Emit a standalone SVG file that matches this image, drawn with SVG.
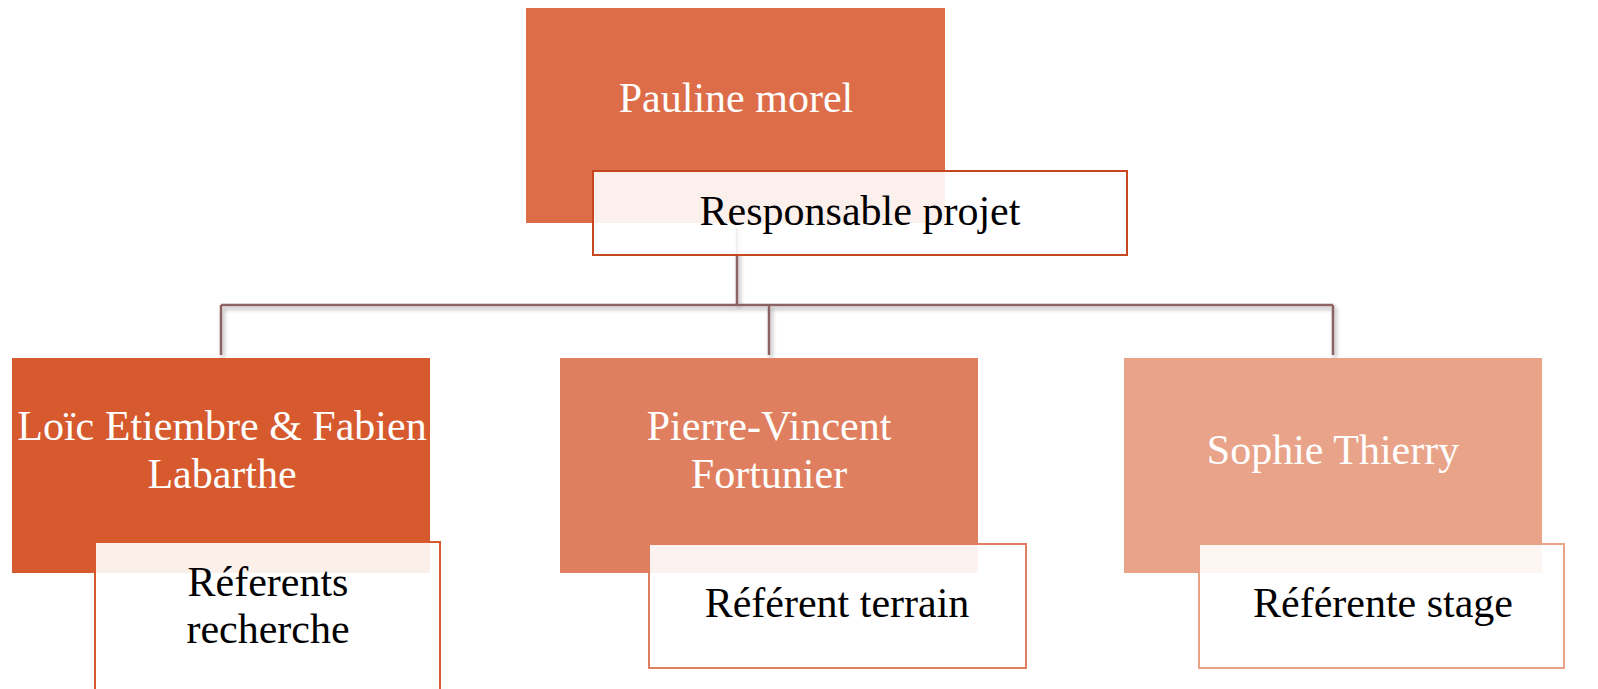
<svg xmlns="http://www.w3.org/2000/svg" width="1598" height="689" viewBox="0 0 1598 689">
<defs>
<filter id="sh" x="-10%" y="-50%" width="120%" height="200%">
<feGaussianBlur in="SourceAlpha" stdDeviation="2"/>
<feOffset dx="2" dy="3" result="b"/>
<feComponentTransfer><feFuncA type="linear" slope="0.35"/></feComponentTransfer>
<feMerge><feMergeNode/><feMergeNode in="SourceGraphic"/></feMerge>
</filter>
</defs>
<style>
.name{font-family:"Liberation Serif",serif;font-size:42px;fill:#FFFFFF;text-anchor:middle}
.role{font-family:"Liberation Serif",serif;font-size:42px;fill:#000000;text-anchor:middle}
.lbl{fill:#FFFFFF;fill-opacity:0.9;stroke-width:2}
.conn{fill:none;stroke:#8C6262;stroke-width:2.5}
</style>
<rect width="1598" height="689" fill="#FFFFFF"/>
<g id="connectors" filter="url(#sh)">
<path class="conn" d="M737 228 V305 M221 305 H1333 M221 305 V355 M769 305 V355 M1333 305 V355"/>
</g>
<g id="node-pauline">
<rect x="526" y="8" width="419" height="215" fill="#DD6C48"/>
<text class="name" x="736" y="112">Pauline morel</text>
<rect class="lbl" x="593" y="171" width="534" height="84" stroke="#C8461E"/>
<text class="role" x="860" y="225">Responsable projet</text>
</g>
<g id="node-loic">
<rect x="12" y="358" width="418" height="215" fill="#D65A2E"/>
<text class="name" x="222" y="440">Loïc Etiembre &amp; Fabien</text>
<text class="name" x="222" y="488">Labarthe</text>
<rect class="lbl" x="95" y="542" width="345" height="150" stroke="#D65A2E"/>
<text class="role" x="268" y="596">Réferents</text>
<text class="role" x="268" y="643">recherche</text>
</g>
<g id="node-pierre">
<rect x="560" y="358" width="418" height="215" fill="#E07F5F"/>
<text class="name" x="769" y="440">Pierre-Vincent</text>
<text class="name" x="769" y="488">Fortunier</text>
<rect class="lbl" x="649" y="544" width="377" height="124" stroke="#E07F5F"/>
<text class="role" x="837" y="617">Référent terrain</text>
</g>
<g id="node-sophie">
<rect x="1124" y="358" width="418" height="215" fill="#E8A389"/>
<text class="name" x="1333" y="464">Sophie Thierry</text>
<rect class="lbl" x="1199" y="544" width="365" height="124" stroke="#E8A389"/>
<text class="role" x="1383" y="617">Référente stage</text>
</g>
</svg>
